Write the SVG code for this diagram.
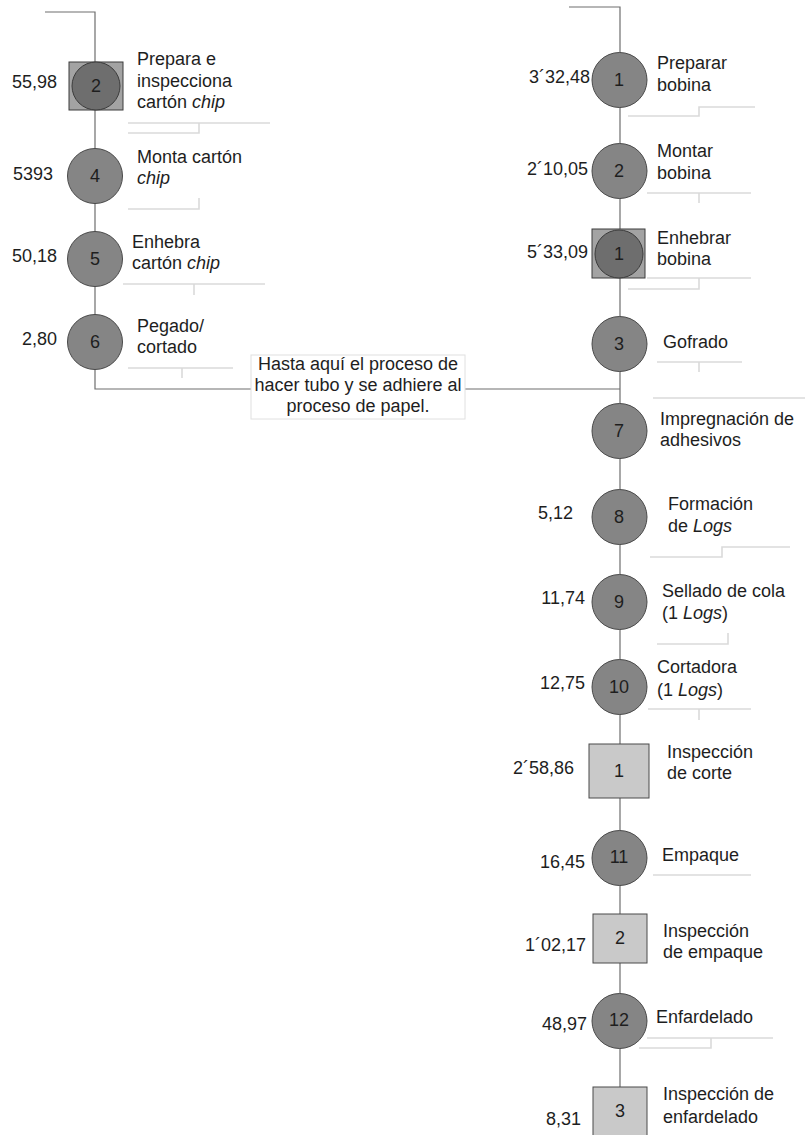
<svg xmlns="http://www.w3.org/2000/svg" width="805" height="1135" viewBox="0 0 805 1135">
<style>
text{font-family:"Liberation Sans",Arial,sans-serif;font-size:18px;fill:#1e1e1e}
.n{text-anchor:middle}
.t{text-anchor:end}
.c{fill:#858585;stroke:#4a4a4a;stroke-width:1}
.cd{fill:#6e6e6e;stroke:#3c3c3c;stroke-width:1}
.sq{fill:#a3a3a3;stroke:#3c3c3c;stroke-width:1}
.si{fill:#c9c9c9;stroke:#4a4a4a;stroke-width:1}
.con{fill:none;stroke:#6e6e6e;stroke-width:1.2}
.dec{fill:none;stroke:#dadada;stroke-width:1.6}
.box{fill:#ffffff;stroke:#e0e0e0;stroke-width:1}
</style>
<g id="connectors">
<path class="con" d="M45 12H95V389H620"/>
<path class="con" d="M569 7H620V1090"/>
</g>
<g id="decor">
<path class="dec" d="M128 123H270M128 133H199V123"/>
<path class="dec" d="M128 209H199V198"/>
<path class="dec" d="M123 284H265M194 284V295"/>
<path class="dec" d="M128 368H233M182 368V378"/>
<path class="dec" d="M628 116H699V107H755"/>
<path class="dec" d="M647 193H751M699 193V203"/>
<path class="dec" d="M647 278H751M628 289H699V278"/>
<path class="dec" d="M657 362H742M699 362V372"/>
<path class="dec" d="M653 398H805"/>
<path class="dec" d="M650 557H722V547H790"/>
<path class="dec" d="M657 644H728V633"/>
<path class="dec" d="M648 709H751M699 709V720"/>
<path class="dec" d="M653 875H751"/>
<path class="dec" d="M647 1038H773M711 1038V1048H639"/>
</g>
<g id="note">
<rect class="box" x="251" y="355" width="214" height="64"/>
<text class="n" x="358" y="370">Hasta aquí el proceso de</text>
<text class="n" x="358" y="391">hacer tubo y se adhiere al</text>
<text class="n" x="358" y="412">proceso de papel.</text>
</g>
<g id="L2">
<rect class="sq" x="69" y="62" width="54" height="48"/>
<circle class="cd" cx="96" cy="86" r="24"/>
<text class="n" x="96" y="92">2</text>
<text class="t" x="57" y="88">55,98</text>
<text x="137" y="65">Prepara e</text>
<text x="137" y="87">inspecciona</text>
<text x="137" y="108">cartón <tspan font-style="italic">chip</tspan></text>
</g>
<g id="L4">
<circle class="c" cx="95" cy="176" r="27.5"/>
<text class="n" x="95" y="182">4</text>
<text class="t" x="53" y="180">5393</text>
<text x="137" y="163">Monta cartón</text>
<text x="137" y="184" font-style="italic">chip</text>
</g>
<g id="L5">
<circle class="c" cx="95" cy="259" r="27.5"/>
<text class="n" x="95" y="265">5</text>
<text class="t" x="57" y="262">50,18</text>
<text x="132" y="248">Enhebra</text>
<text x="132" y="269">cartón <tspan font-style="italic">chip</tspan></text>
</g>
<g id="L6">
<circle class="c" cx="95" cy="342" r="27.5"/>
<text class="n" x="95" y="348">6</text>
<text class="t" x="57" y="345">2,80</text>
<text x="137" y="332">Pegado/</text>
<text x="137" y="353">cortado</text>
</g>
<g id="R1">
<circle class="c" cx="619.5" cy="80" r="27.5"/>
<text class="n" x="619" y="86">1</text>
<text class="t" x="590" y="83">3´32,48</text>
<text x="657" y="69">Preparar</text>
<text x="657" y="91">bobina</text>
</g>
<g id="R2">
<circle class="c" cx="619.5" cy="171" r="27.5"/>
<text class="n" x="619" y="177">2</text>
<text class="t" x="588" y="175">2´10,05</text>
<text x="657" y="157">Montar</text>
<text x="657" y="179">bobina</text>
</g>
<g id="R1b">
<rect class="sq" x="592" y="229" width="53" height="49"/>
<circle class="cd" cx="619" cy="254" r="24"/>
<text class="n" x="619" y="260">1</text>
<text class="t" x="588" y="258">5´33,09</text>
<text x="657" y="244">Enhebrar</text>
<text x="657" y="265">bobina</text>
</g>
<g id="R3">
<circle class="c" cx="619.5" cy="344" r="27.5"/>
<text class="n" x="619" y="350">3</text>
<text x="663" y="348">Gofrado</text>
</g>
<g id="R7">
<circle class="c" cx="619.5" cy="431" r="27.5"/>
<text class="n" x="619" y="437">7</text>
<text x="660" y="425">Impregnación de</text>
<text x="660" y="446">adhesivos</text>
</g>
<g id="R8">
<circle class="c" cx="619.5" cy="517" r="27.5"/>
<text class="n" x="619" y="523">8</text>
<text class="t" x="573" y="519">5,12</text>
<text x="668" y="510">Formación</text>
<text x="668" y="532">de <tspan font-style="italic">Logs</tspan></text>
</g>
<g id="R9">
<circle class="c" cx="619.5" cy="602" r="27.5"/>
<text class="n" x="619" y="608">9</text>
<text class="t" x="585" y="604">11,74</text>
<text x="662" y="597">Sellado de cola</text>
<text x="662" y="619">(1 <tspan font-style="italic">Logs</tspan>)</text>
</g>
<g id="R10">
<circle class="c" cx="619.5" cy="687" r="27.5"/>
<text class="n" x="619" y="693">10</text>
<text class="t" x="585" y="689">12,75</text>
<text x="657" y="673">Cortadora</text>
<text x="657" y="696">(1 <tspan font-style="italic">Logs</tspan>)</text>
</g>
<g id="I1">
<rect class="si" x="589" y="744" width="60" height="54"/>
<text class="n" x="619" y="777">1</text>
<text class="t" x="574" y="774">2´58,86</text>
<text x="667" y="758">Inspección</text>
<text x="667" y="779">de corte</text>
</g>
<g id="R11">
<circle class="c" cx="619.5" cy="858" r="27.5"/>
<text class="n" x="619" y="863">11</text>
<text class="t" x="585" y="868">16,45</text>
<text x="662" y="861">Empaque</text>
</g>
<g id="I2">
<rect class="si" x="593" y="914" width="54" height="49"/>
<text class="n" x="620" y="944">2</text>
<text class="t" x="586" y="951">1´02,17</text>
<text x="663" y="937">Inspección</text>
<text x="663" y="958">de empaque</text>
</g>
<g id="R12">
<circle class="c" cx="619.5" cy="1021" r="27.5"/>
<text class="n" x="619" y="1026">12</text>
<text class="t" x="587" y="1030">48,97</text>
<text x="656" y="1023">Enfardelado</text>
</g>
<g id="I3">
<rect class="si" x="593" y="1087" width="54" height="55"/>
<text class="n" x="620" y="1117">3</text>
<text class="t" x="581" y="1125">8,31</text>
<text x="663" y="1100">Inspección de</text>
<text x="663" y="1123">enfardelado</text>
</g>
</svg>
